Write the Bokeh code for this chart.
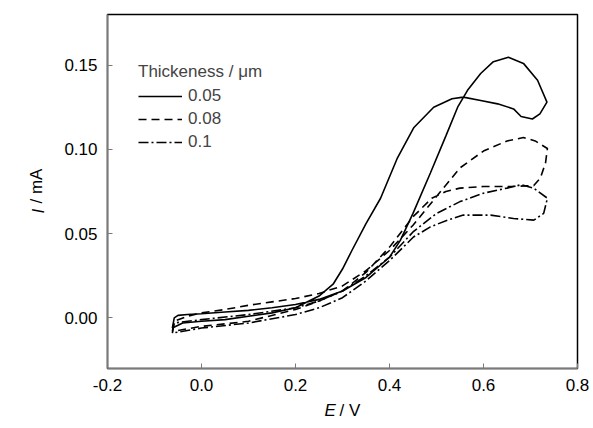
from bokeh.plotting import figure
from bokeh.models import Legend, LegendItem, Label, FixedTicker, Range1d, NumeralTickFormatter
from bokeh.embed import file_html
from bokeh.resources import INLINE
import math

# ---- data ----
# 0.05 um film: forward (positive-going) and reverse scans
E_f05 = [-0.062, -0.058, -0.05, -0.03, 0.0, 0.05, 0.1, 0.15, 0.2, 0.25, 0.3, 0.35, 0.4, 0.423, 0.45, 0.487, 0.52, 0.545, 0.566, 0.594, 0.621, 0.653, 0.685, 0.715, 0.735]
I_f05 = [-0.006, 0.000, 0.0015, 0.002, 0.0025, 0.0035, 0.0045, 0.006, 0.008, 0.011, 0.016, 0.024, 0.036, 0.046, 0.062, 0.086, 0.108, 0.125, 0.135, 0.145, 0.152, 0.1546, 0.151, 0.141, 0.128]
E_r05 = [0.735, 0.72, 0.704, 0.68, 0.664, 0.63, 0.594, 0.557, 0.533, 0.494, 0.452, 0.417, 0.381, 0.35, 0.32, 0.30, 0.28, 0.25, 0.2, 0.15, 0.1, 0.05, 0.0, -0.04, -0.062]
I_r05 = [0.128, 0.121, 0.118, 0.1195, 0.124, 0.127, 0.129, 0.131, 0.130, 0.125, 0.113, 0.095, 0.071, 0.056, 0.040, 0.029, 0.020, 0.013, 0.006, 0.003, 0.001, -0.001, -0.002, -0.003, -0.006]

# 0.08 um film
E_f08 = [-0.062, -0.058, -0.03, 0.0, 0.05, 0.1, 0.15, 0.2, 0.25, 0.3, 0.35, 0.4, 0.45, 0.5, 0.55, 0.6, 0.65, 0.685, 0.71, 0.736]
I_f08 = [-0.008, -0.002, 0.001, 0.003, 0.005, 0.0075, 0.0095, 0.0115, 0.0145, 0.019, 0.028, 0.040, 0.055, 0.072, 0.089, 0.099, 0.105, 0.107, 0.105, 0.1005]
E_r08 = [0.736, 0.732, 0.721, 0.707, 0.66, 0.6, 0.55, 0.52, 0.49, 0.45, 0.4, 0.35, 0.3, 0.25, 0.2, 0.1, 0.0, -0.062]
I_r08 = [0.1005, 0.092, 0.083, 0.0785, 0.078, 0.078, 0.077, 0.075, 0.071, 0.060, 0.042, 0.027, 0.016, 0.010, 0.005, -0.002, -0.005, -0.008]

# 0.1 um film
E_f10 = [-0.062, -0.058, 0.0, 0.1, 0.2, 0.25, 0.3, 0.35, 0.4, 0.45, 0.5, 0.55, 0.6, 0.65, 0.68, 0.707, 0.736]
I_f10 = [-0.009, -0.003, -0.001, 0.002, 0.006, 0.010, 0.016, 0.025, 0.036, 0.051, 0.062, 0.069, 0.074, 0.077, 0.079, 0.077, 0.071]
E_r10 = [0.736, 0.728, 0.707, 0.664, 0.615, 0.557, 0.523, 0.487, 0.451, 0.4, 0.35, 0.3, 0.25, 0.2, 0.1, 0.0, -0.062]
I_r10 = [0.071, 0.062, 0.058, 0.059, 0.061, 0.061, 0.058, 0.054, 0.048, 0.034, 0.022, 0.012, 0.006, 0.002, -0.003, -0.006, -0.009]

thickness_labels = ["0.05", "0.08", "0.1"]
legend_title = "Thickeness / \u03bcm"
x_ticks = [-0.2, 0.0, 0.2, 0.4, 0.6, 0.8]
y_ticks = [0.0, 0.05, 0.10, 0.15]

FONT = "Liberation Sans"
FS = "17px"

p = figure(width=593, height=428, output_backend="svg", toolbar_location=None,
           x_range=Range1d(-0.2, 0.8), y_range=Range1d(-0.03, 0.18),
           min_border_left=107, min_border_right=16, min_border_top=14, min_border_bottom=60)
p.grid.visible = False
p.background_fill_color = "white"
p.border_fill_color = "white"
p.outline_line_color = "black"
p.outline_line_width = 1.5

for ax in (p.xaxis[0], p.yaxis[0]):
    ax.axis_line_color = "#7a7a7a"
    ax.axis_line_width = 1.5
    ax.major_tick_line_color = "#7a7a7a"
    ax.major_tick_in = 5
    ax.major_tick_out = 0
    ax.minor_tick_line_color = None
    ax.major_label_text_font = FONT
    ax.major_label_text_font_size = FS
    ax.major_label_text_color = "black"
    ax.major_label_standoff = 10

p.xaxis.ticker = FixedTicker(ticks=x_ticks)
p.yaxis.ticker = FixedTicker(ticks=y_ticks)
p.xaxis.formatter = NumeralTickFormatter(format="0.0")
p.yaxis.formatter = NumeralTickFormatter(format="0.00")

lw = 1.6
r1 = p.line(E_f05 + E_r05, I_f05 + I_r05, line_color="black", line_width=lw)
r2 = p.line(E_f08 + E_r08, I_f08 + I_r08, line_color="black", line_width=lw, line_dash="8 5")
r3 = p.line(E_f10 + E_r10, I_f10 + I_r10, line_color="black", line_width=lw, line_dash="10 3 2 3")

legend = Legend(items=[LegendItem(label=thickness_labels[0], renderers=[r1]),
                       LegendItem(label=thickness_labels[1], renderers=[r2]),
                       LegendItem(label=thickness_labels[2], renderers=[r3])],
                location=(31, 216), title=legend_title)
legend.title_text_font = FONT
legend.title_text_font_size = FS
legend.title_text_font_style = "normal"
legend.title_standoff = 4
legend.label_text_font = FONT
legend.label_text_font_size = FS
legend.glyph_width = 44
legend.glyph_height = 20
legend.label_height = 20
legend.label_standoff = 6
legend.spacing = 3
legend.padding = 0
legend.margin = 0
legend.border_line_color = None
legend.background_fill_alpha = 0
p.add_layout(legend)

# axis titles with italic symbols, placed in the side panels
def lab(x, y, txt, style, angle=0.0):
    return Label(x=x, y=y, x_units="screen", y_units="screen", text=txt, angle=angle,
                 text_font=FONT, text_font_size=FS, text_font_style=style,
                 text_align="left", text_baseline="middle", text_color="black")

p.add_layout(lab(217, 2, "E", "italic"), "below")
p.add_layout(lab(-4, 155, "I", "italic", math.pi / 2), "left")
p.add_layout(lab(13, 165, "/ mA", "normal", math.pi / 2), "left")
p.add_layout(lab(337, -42, "/ V", "normal"), "left")

open("out.html", "w").write(file_html(p, INLINE))
